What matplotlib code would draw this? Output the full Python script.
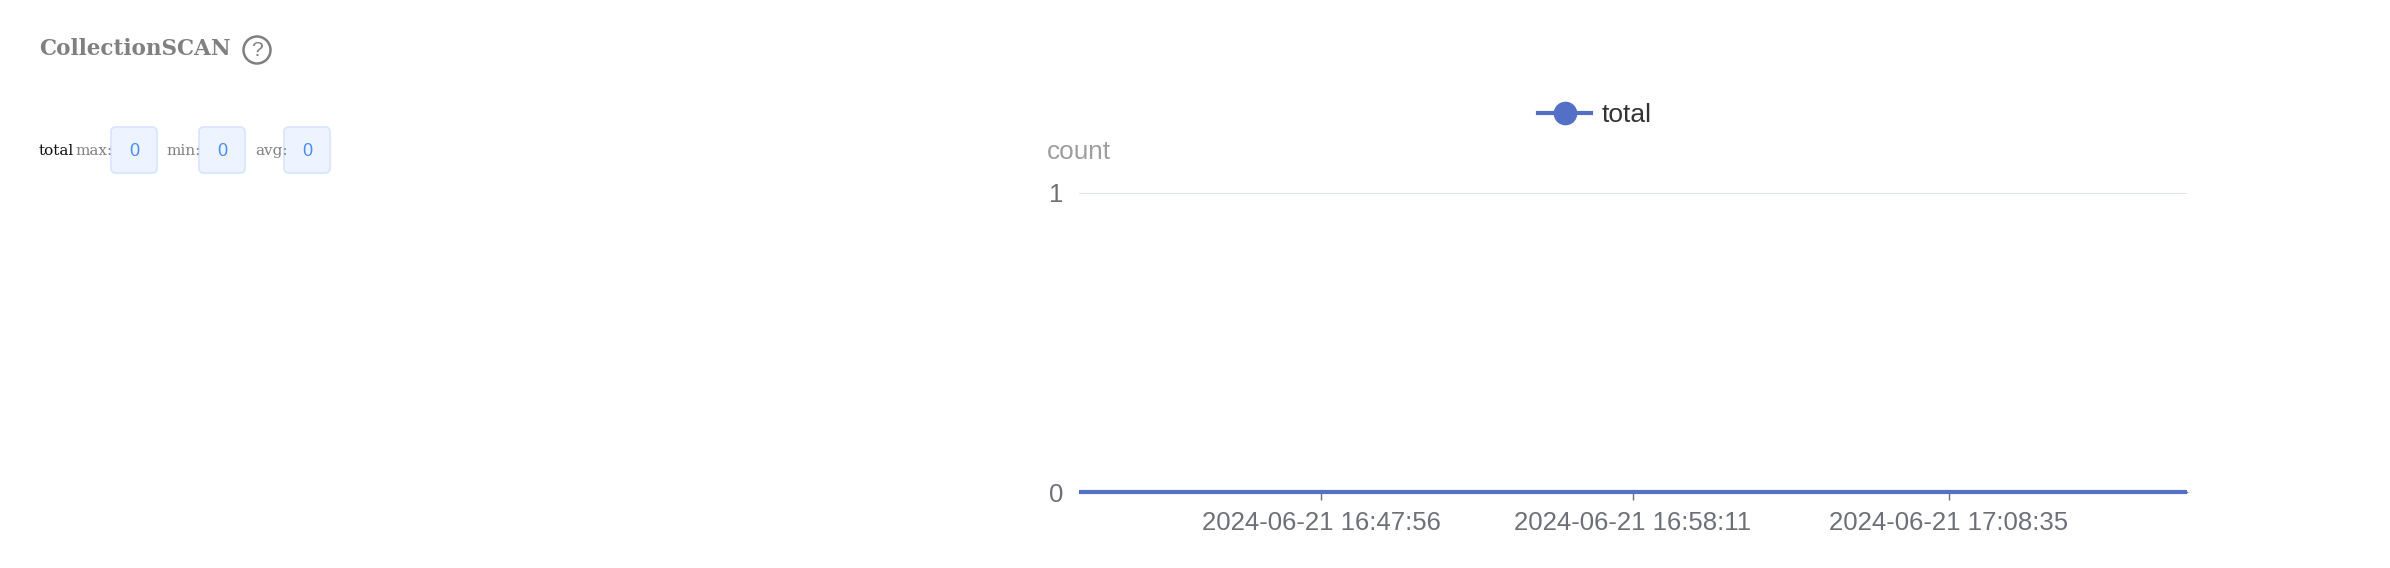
import matplotlib
matplotlib.use('Agg')
import matplotlib.pyplot as plt
import matplotlib.dates as mdates
from matplotlib.lines import Line2D
from matplotlib.patches import FancyBboxPatch, Circle
import pandas as pd

plt.rcParams['font.family'] = ['Liberation Sans', 'DejaVu Sans']

# ---------------- data ----------------
title = 'CollectionSCAN'
series_name = 'total'
y_name = 'count'
times = ['2024-06-21 16:39:58', '2024-06-21 16:47:56', '2024-06-21 16:58:11',
         '2024-06-21 17:08:35', '2024-06-21 17:16:25']
values = [0, 0, 0, 0, 0]
tick_labels = ['2024-06-21 16:47:56', '2024-06-21 16:58:11', '2024-06-21 17:08:35']
y_ticks = [0, 1]
stat_names = ['max:', 'min:', 'avg:']
stat_values = [0, 0, 0]

LINE_COLOR = '#5470C6'
AXIS_COLOR = '#6E7079'

W, H = 2390, 568
fig = plt.figure(figsize=(W / 100, H / 100), dpi=100)
fig.patch.set_facecolor('white')

# ---------------- left panel (pixel overlay) ----------------
ov = fig.add_axes([0, 0, 1, 1])
ov.set_xlim(0, W)
ov.set_ylim(H, 0)
ov.axis('off')
ov.patch.set_visible(False)

serif = ['DejaVu Serif']
ov.text(39, 49, title, family=serif, fontweight='bold', fontsize=15.5,
        color='#808080', ha='left', va='center')
ov.add_patch(Circle((257, 50), 13.5, fill=False, ec='#808080', lw=1.8))
ov.text(257, 51, '?', fontsize=15, color='#808080', ha='center', va='center')

ov.text(39, 151, series_name, family=serif, fontsize=11, color='#111111',
        ha='left', va='center')
label_x = [75, 166, 255]
box_x = [111, 199, 284]
box_w, box_top, box_h = 46, 127, 46
for lx, bx, name, val in zip(label_x, box_x, stat_names, stat_values):
    ov.text(lx, 151, name, family=serif, fontsize=11, color='#808080',
            ha='left', va='center')
    ov.add_patch(FancyBboxPatch((bx + 5, box_top + 5), box_w - 10, box_h - 10,
                                boxstyle='round,pad=5', fc='#EEF4FF',
                                ec='#D8E6FD', lw=1.3))
    ov.text(bx + box_w / 2, box_top + box_h / 2 + 1, str(val), fontsize=13,
            color='#4A8CF0', ha='center', va='center')

# ---------------- chart ----------------
ax = fig.add_axes([1079 / W, 1 - 492 / H, (2187 - 1079) / W, (492 - 193) / H])
x = pd.to_datetime(times)
ax.plot(x, values, color=LINE_COLOR, lw=3, clip_on=False, zorder=4,
        solid_capstyle='butt')
ax.set_xlim(x[0], x[-1])
ax.set_ylim(0, 1)
ax.set_yticks(y_ticks)
ax.yaxis.grid(True, color='#E0E6F1', lw=1.4)
ax.set_axisbelow(True)
for s in ['top', 'right', 'left']:
    ax.spines[s].set_visible(False)
ax.spines['bottom'].set_color(AXIS_COLOR)
ax.spines['bottom'].set_linewidth(1)
ax.set_xticks(pd.to_datetime(tick_labels))
ax.xaxis.set_major_formatter(mdates.DateFormatter('%Y-%m-%d %H:%M:%S'))
ax.tick_params(axis='x', length=6, width=1, color=AXIS_COLOR,
               labelcolor=AXIS_COLOR, labelsize=18.5, pad=7.5)
ax.tick_params(axis='y', length=0, labelcolor=AXIS_COLOR, labelsize=18.5, pad=11)
ax.text(0, 1 + (193 - 152) / 299, y_name, transform=ax.transAxes,
        ha='center', va='center', fontsize=18.8, color='#9E9E9E')

handle = Line2D([], [], color=LINE_COLOR, lw=3, marker='o', markersize=16)
fig.legend([handle], [series_name], loc='center',
           bbox_to_anchor=(1595 / W, 1 - 115 / H), frameon=False,
           handlelength=2.0, handletextpad=0.4, borderpad=0, borderaxespad=0,
           prop={'size': 19}, labelcolor='#333333')

fig.savefig('out.png', dpi=100, facecolor='white')
